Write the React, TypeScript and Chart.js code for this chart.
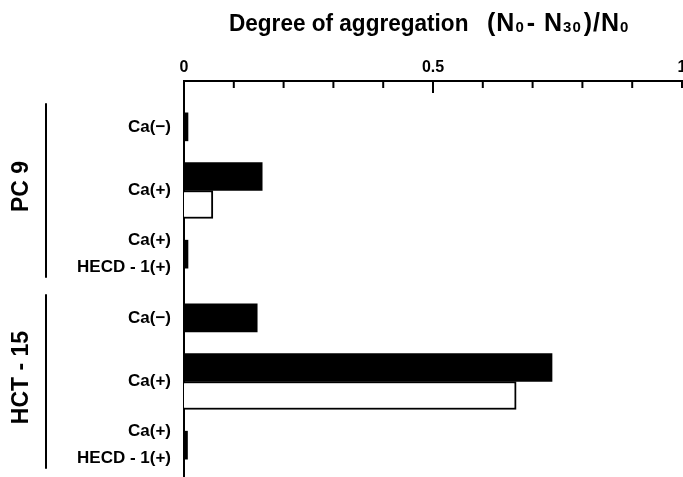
import React, { useEffect, useRef } from 'react';
import { Chart, registerables } from 'chart.js';

Chart.register(...registerables);

const FONT = '"Liberation Sans", Arial, Helvetica, sans-serif';

// Row labels (top to bottom)
const categories: string[][] = [
  ['Ca(−)'],
  ['Ca(+)'],
  ['Ca(+)', 'HECD - 1(+)'],
  ['Ca(−)'],
  ['Ca(+)'],
  ['Ca(+)', 'HECD - 1(+)'],
];
// Filled (black) bars
const blackValues: (number | null)[] = [0.008, 0.157, 0.008, 0.147, 0.739, 0.007];
// Open (white) bars
const whiteValues: (number | null)[] = [null, 0.058, null, null, 0.667, null];
// Cell-line groups: index range of rows
const groupNames = ['PC 9', 'HCT - 15'];
const groupFirstRow = [0, 3];
const groupLastRow = [2, 5];
// Labelled x ticks
const xTickLabels = [0, 0.5, 1];
const xMin = 0;
const xMax = 1;
const xStep = 0.1;

const titleMain = 'Degree of aggregation';
const titleFormula: { text: string; sub: boolean }[] = [
  { text: '(N', sub: false },
  { text: '0', sub: true },
  { text: '- N', sub: false },
  { text: '30', sub: true },
  { text: ')/N', sub: false },
  { text: '0', sub: true },
];

const decorPlugin = {
  id: 'decor',
  afterDraw(chart: any) {
    const ctx = chart.ctx as CanvasRenderingContext2D;
    const xs = chart.scales.x;
    const ys = chart.scales.y;
    const area = chart.chartArea;
    ctx.save();
    // title
    const ty = 31;
    ctx.fillStyle = '#000';
    ctx.textBaseline = 'alphabetic';
    ctx.textAlign = 'left';
    ctx.save();
    ctx.translate(229, ty);
    ctx.scale(0.94, 1);
    ctx.font = `bold 24px ${FONT}`;
    ctx.fillText(titleMain, 0, 0);
    ctx.restore();
    let tx = 487;
    (ctx as any).letterSpacing = '1px';
    for (const p of titleFormula) {
      ctx.font = p.sub ? `bold 15px ${FONT}` : `bold 25px ${FONT}`;
      ctx.fillText(p.text, tx, p.sub ? ty + 1 : ty);
      tx += ctx.measureText(p.text).width + (p.sub ? 2 : 0);
    }
    (ctx as any).letterSpacing = '0px';
    // x tick marks pointing into the plot
    ctx.strokeStyle = '#000';
    ctx.lineWidth = 2;
    for (const t of xs.ticks) {
      const px = xs.getPixelForValue(t.value);
      if (Math.abs(t.value) < 1e-9) continue;
      const major = Math.abs(t.value - 0.5) < 1e-6;
      ctx.beginPath();
      ctx.moveTo(px, area.top);
      ctx.lineTo(px, area.top + (major ? 12 : 7));
      ctx.stroke();
    }
    // group brackets and labels
    for (let g = 0; g < groupNames.length; g++) {
      const y0 = ys.getPixelForValue(groupFirstRow[g] - 0.37);
      const y1 = ys.getPixelForValue(groupLastRow[g] + 0.37);
      ctx.beginPath();
      ctx.moveTo(46, y0);
      ctx.lineTo(46, y1);
      ctx.stroke();
      const ym = ys.getPixelForValue((groupFirstRow[g] + groupLastRow[g]) / 2) - 4;
      ctx.save();
      ctx.translate(21.5, ym);
      ctx.rotate(-Math.PI / 2);
      ctx.font = `bold 23px ${FONT}`;
      ctx.textAlign = 'center';
      ctx.textBaseline = 'middle';
      ctx.fillText(groupNames[g], 0, 0);
      ctx.restore();
    }
    ctx.restore();
  },
};

export default function App() {
  const ref = useRef<HTMLCanvasElement | null>(null);
  useEffect(() => {
    if (!ref.current) return;
    const chart = new Chart(ref.current, {
      type: 'bar',
      data: {
        datasets: [
          {
            data: blackValues.map((v, i) => ({ x: v, y: i })) as any,
            backgroundColor: '#000',
            borderWidth: 0,
          },
          {
            data: whiteValues.map((v, i) => ({ x: v, y: i })) as any,
            backgroundColor: '#fff',
            borderColor: '#000',
            borderWidth: 2,
          },
        ],
      },
      options: {
        indexAxis: 'y',
        animation: false,
        responsive: false,
        devicePixelRatio: 1,
        layout: { padding: { left: 0, top: 0, right: 1, bottom: 0 } },
        datasets: { bar: { barThickness: 28, skipNull: true, grouped: true } as any },
        plugins: {
          legend: { display: false },
          tooltip: { enabled: false },
          title: { display: false },
        },
        scales: {
          x: {
            type: 'linear',
            position: 'top',
            min: xMin,
            max: xMax,
            offset: false,
            grid: { display: false, drawTicks: false, tickLength: 0 },
            border: { display: true, color: '#000', width: 2 },
            ticks: {
              stepSize: xStep,
              autoSkip: false,
              maxRotation: 0,
              padding: 4,
              color: '#000',
              font: { family: FONT, size: 16, weight: 'bold' },
              callback: (v: any) => {
                const hit = xTickLabels.find((t) => Math.abs(Number(v) - t) < 1e-6);
                return hit === undefined ? '' : String(hit);
              },
            },
            afterFit: (s: any) => {
              s.height = 81;
              s.paddingLeft = 0;
              s.paddingRight = 0;
            },
          },
          y: {
            type: 'linear',
            reverse: true,
            offset: false,
            min: -0.72,
            max: 5.5,
            grid: { display: false, drawTicks: false, tickLength: 0 },
            border: { display: true, color: '#000', width: 2 },
            afterBuildTicks: (s: any) => {
              s.ticks = categories.map((_, i) => ({ value: i }));
            },
            ticks: {
              autoSkip: false,
              padding: 13,
              color: '#000',
              font: { family: FONT, size: 17, weight: 'bold', lineHeight: 1.6 },
              callback: (v: any) => categories[Math.round(Number(v))] as any,
            },
            afterFit: (s: any) => {
              s.width = 184;
              s.paddingTop = 0;
              s.paddingBottom = 0;
            },
          },
        },
      },
      plugins: [decorPlugin],
    });
    return () => chart.destroy();
  }, []);
  return (
    <div
      style={{
        position: 'fixed',
        left: 0,
        top: 0,
        width: 683,
        height: 477,
        overflow: 'hidden',
        background: '#fff',
      }}
    >
      <canvas ref={ref} width={683} height={477} style={{ width: 683, height: 477, display: 'block' }} />
    </div>
  );
}
